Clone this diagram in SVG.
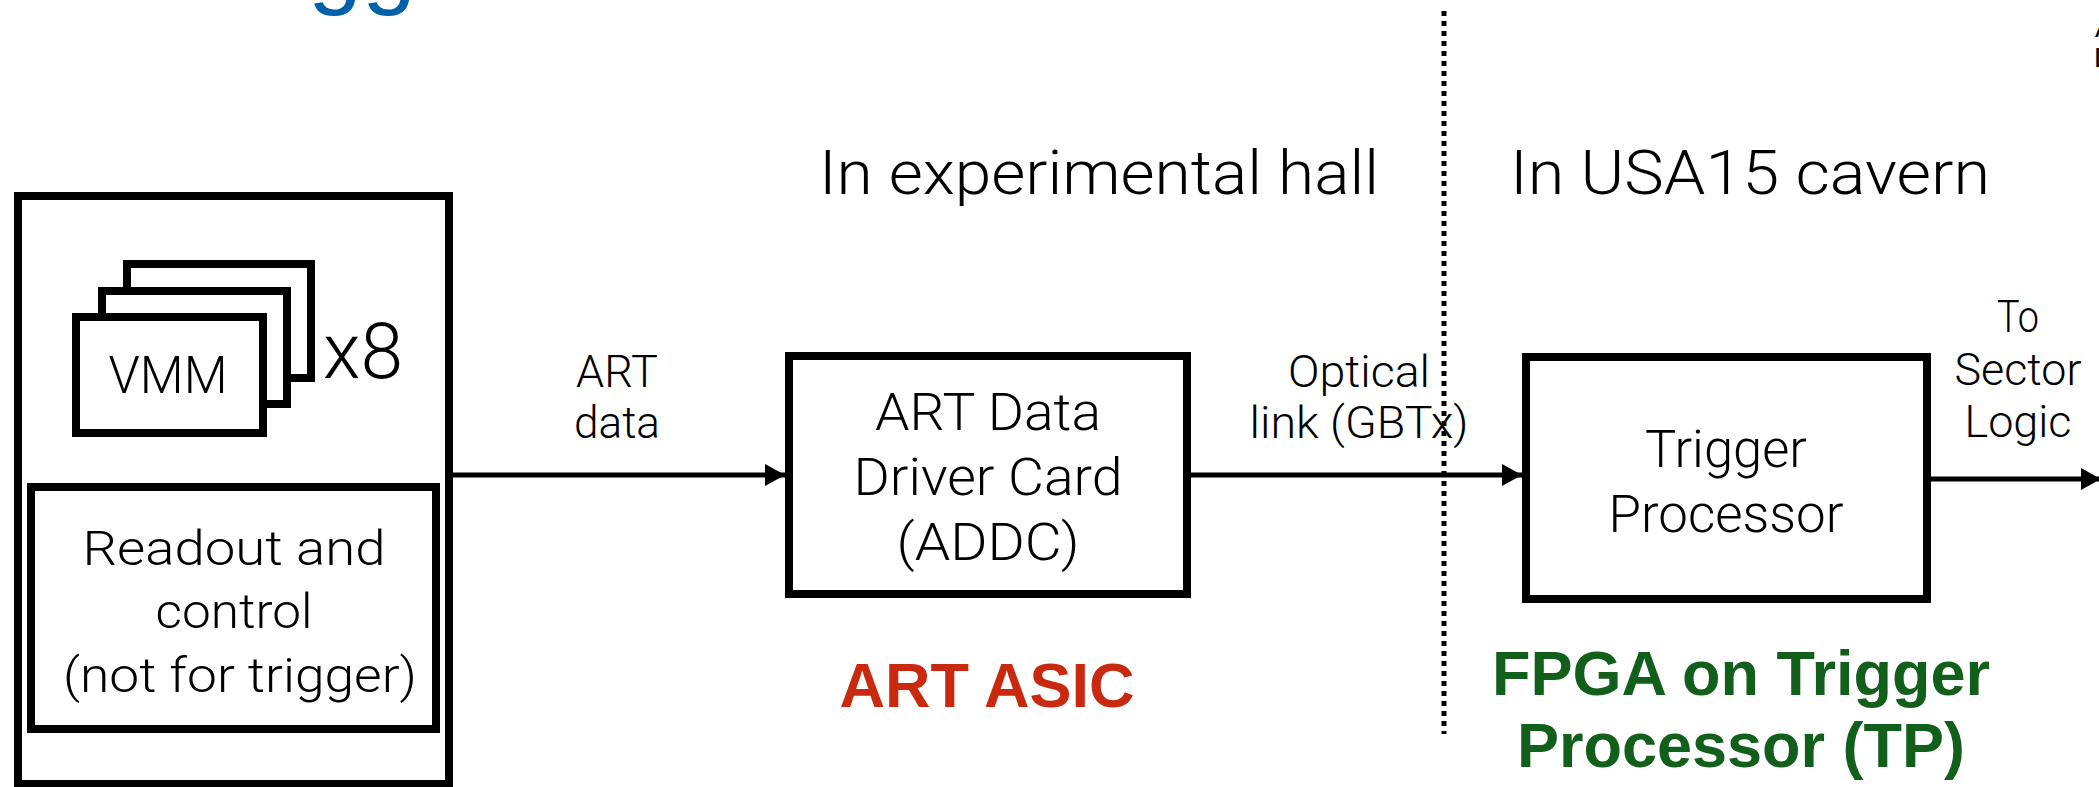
<svg xmlns="http://www.w3.org/2000/svg" width="2099" height="787" viewBox="0 0 2099 787">
  <style>
    .box { fill: none; stroke: #000; stroke-width: 8; }
    .vmm { fill: #fff; stroke: #000; stroke-width: 8; }
    .t { font-family: Roboto, "Liberation Sans", Arial, sans-serif; font-weight: 300; fill: #000; text-anchor: middle; }
    .b { font-family: "Liberation Sans", Arial, sans-serif; font-weight: bold; text-anchor: middle; }
    .conn { stroke: #000; stroke-width: 5; fill: none; }
  </style>
  <defs>
    <marker id="arrow" markerUnits="userSpaceOnUse" markerWidth="20" markerHeight="22" refX="20" refY="11" orient="auto">
      <path d="M0,0 L20,11 L0,22 Z" fill="#000"/>
    </marker>
  </defs>
  <rect width="2099" height="787" fill="#fff"/>

  <!-- partial glyphs cut by the frame -->
  <text x="308" y="-4" font-family="Liberation Sans, Arial, sans-serif" font-size="97" fill="#0061AA">gg</text>
  <text x="2095" y="37" font-family="Liberation Sans, Arial, sans-serif" font-size="28" fill="#000">A</text>
  <text x="2094" y="67" font-family="Liberation Sans, Arial, sans-serif" font-size="28" fill="#000">D</text>

  <!-- region labels -->
  <g id="region-labels">
    <text class="t" x="1099" y="194" font-size="62" textLength="560" lengthAdjust="spacingAndGlyphs">In experimental hall</text>
    <text class="t" x="1750" y="194" font-size="62" textLength="480" lengthAdjust="spacingAndGlyphs">In USA15 cavern</text>
  </g>

  <!-- front-end board -->
  <g id="frontend">
    <rect class="box" x="18" y="196" width="431" height="588"/>
    <g id="vmm">
      <rect class="vmm" x="127" y="264" width="184" height="114"/>
      <rect class="vmm" x="102" y="291" width="185" height="113"/>
      <rect class="vmm" x="76" y="317" width="187" height="116"/>
      <text class="t" x="168" y="393" font-size="52" textLength="119" lengthAdjust="spacingAndGlyphs">VMM</text>
      <text class="t" x="363" y="378" font-size="78" textLength="80" lengthAdjust="spacingAndGlyphs">x8</text>
    </g>
    <g id="readout">
      <rect class="box" x="31" y="487" width="405" height="242"/>
      <text class="t" x="234" y="565" font-size="49" textLength="303" lengthAdjust="spacingAndGlyphs">Readout and</text>
      <text class="t" x="234" y="628" font-size="49" textLength="157" lengthAdjust="spacingAndGlyphs">control</text>
      <text class="t" x="240" y="692" font-size="49" textLength="354" lengthAdjust="spacingAndGlyphs">(not for trigger)</text>
    </g>
  </g>

  <!-- ADDC -->
  <g id="addc">
    <rect class="box" x="789" y="356" width="398" height="238"/>
    <text class="t" x="988" y="430" font-size="51" textLength="226" lengthAdjust="spacingAndGlyphs">ART Data</text>
    <text class="t" x="988" y="495" font-size="51" textLength="269" lengthAdjust="spacingAndGlyphs">Driver Card</text>
    <text class="t" x="988" y="560" font-size="51" textLength="183" lengthAdjust="spacingAndGlyphs">(ADDC)</text>
    <text class="b" x="987" y="707" font-size="63" fill="#C8290F">ART ASIC</text>
  </g>

  <!-- Trigger Processor -->
  <g id="tp">
    <rect class="box" x="1526" y="357" width="401" height="242"/>
    <text class="t" x="1726" y="467" font-size="51" textLength="162" lengthAdjust="spacingAndGlyphs">Trigger</text>
    <text class="t" x="1726" y="532" font-size="51" textLength="235" lengthAdjust="spacingAndGlyphs">Processor</text>
    <text class="b" x="1741" y="695" font-size="63" fill="#125F1B">FPGA on Trigger</text>
    <text class="b" x="1741" y="767" font-size="63" fill="#125F1B">Processor (TP)</text>
  </g>

  <!-- connectors -->
  <g id="connectors">
    <line x1="1444" y1="11" x2="1444" y2="734" stroke="#000" stroke-width="5" stroke-dasharray="5 5"/>
    <line class="conn" x1="453" y1="475" x2="785" y2="475" marker-end="url(#arrow)"/>
    <line class="conn" x1="1191" y1="475" x2="1522" y2="475" marker-end="url(#arrow)"/>
    <line class="conn" x1="1931" y1="479" x2="2101" y2="479" marker-end="url(#arrow)"/>
    <text class="t" x="617" y="387" font-size="44" textLength="82" lengthAdjust="spacingAndGlyphs">ART</text>
    <text class="t" x="617" y="438" font-size="44" textLength="86" lengthAdjust="spacingAndGlyphs">data</text>
    <text class="t" x="1359" y="387" font-size="44" textLength="142" lengthAdjust="spacingAndGlyphs">Optical</text>
    <text class="t" x="1359" y="438" font-size="44" textLength="219" lengthAdjust="spacingAndGlyphs">link (GBTx)</text>
    <text class="t" x="2018" y="332" font-size="44" textLength="42" lengthAdjust="spacingAndGlyphs">To</text>
    <text class="t" x="2018" y="385" font-size="44" textLength="127" lengthAdjust="spacingAndGlyphs">Sector</text>
    <text class="t" x="2018" y="437" font-size="44" textLength="107" lengthAdjust="spacingAndGlyphs">Logic</text>
  </g>
</svg>
